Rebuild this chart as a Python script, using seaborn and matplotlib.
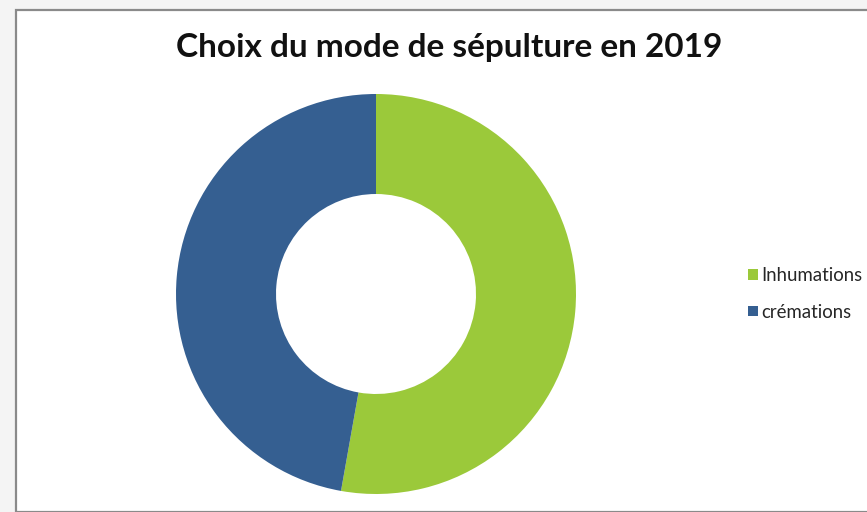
import matplotlib.pyplot as plt
import matplotlib.patches as mpatches
import seaborn as sns

# données (parts en %)
categories = ['Inhumations', 'crémations']
parts = [52.8, 47.2]
couleurs = ['#9BC93A', '#355F91']
titre = 'Choix du mode de sépulture en 2019'

sns.set_theme(style='white')
plt.rcParams['font.family'] = ['Lato', 'DejaVu Sans']

W, H = 867, 512
fig = plt.figure(figsize=(W / 100, H / 100), dpi=100)
fig.patch.set_facecolor('#f4f4f4')

# cadre du graphique
cadre = mpatches.Rectangle((16 / W, 0), 1, 1 - 10 / H, transform=fig.transFigure,
                           facecolor='white', edgecolor='#8a8a8a', linewidth=1.6,
                           zorder=-10)
fig.patches.append(cadre)

# anneau : centre (376, 294), rayon 200 px
ax = fig.add_axes([176 / W, (H - 494) / H, 400 / W, 400 / H])
ax.set_zorder(5)
wedges, _ = ax.pie(parts, colors=couleurs, startangle=90, counterclock=False,
                   radius=1, wedgeprops=dict(width=0.5, edgecolor='none'))
ax.set_xlim(-1, 1)
ax.set_ylim(-1, 1)
ax.set_aspect('equal')
ax.axis('off')

fig.text(449 / W, 1 - 48 / H, titre, ha='center', va='center',
         fontsize=24, fontweight='bold', color='#111111')

fig.legend(wedges, categories, loc='center left',
           bbox_to_anchor=(739 / W, 1 - 294 / H), frameon=False,
           fontsize=13.4, handlelength=0.5, handleheight=0.5,
           handletextpad=0.2, labelspacing=1.05, borderpad=0)

fig.savefig('out.png', dpi=100, facecolor=fig.get_facecolor())
